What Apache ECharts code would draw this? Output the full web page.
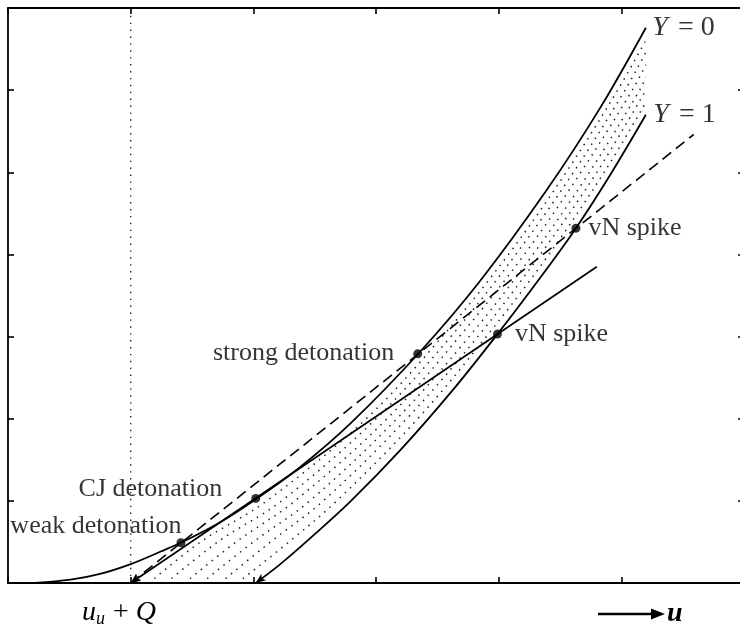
<!DOCTYPE html>
<html>
<head>
<meta charset="utf-8">
<script src="https://cdn.jsdelivr.net/npm/echarts@6/dist/echarts.min.js"></script>
<style>html,body{margin:0;padding:0;background:#fff}#c{width:740px;height:628px}</style>
</head>
<body>
<div id="c"></div>
<script>
// Hugoniot curves (u, p)
const yZeroCurve = [[0.22,0],[0.51,0.04],[0.75,0.11],[1.00,0.23],[1.24,0.38],[1.43,0.505],[1.73,0.74],[2.02,1.02],[2.38,1.41],[2.79,1.94],[3.35,2.80],[3.85,3.68],[4.39,4.78],[4.83,5.79],[5.20,6.76]];
const yOneCurve = [[2.02,0],[2.22,0.23],[2.46,0.54],[2.79,0.99],[3.20,1.62],[3.61,2.32],[3.99,3.03],[4.34,3.72],[4.63,4.32],[4.91,4.97],[5.20,5.70]];
// intermediate (dotted) Hugoniots
const midCurve1 = [[1.15,0],[1.57,0.5],[2.11,1],[2.92,2],[3.54,3],[4.08,4],[4.55,5],[4.97,6],[5.20,6.61]];
const midCurve2 = [[1.29,0],[1.71,0.5],[2.23,1],[3.00,2],[3.61,3],[4.14,4],[4.61,5],[5.03,6],[5.20,6.46]];
const midCurve3 = [[1.44,0],[1.86,0.5],[2.34,1],[3.09,2],[3.68,3],[4.21,4],[4.67,5],[5.09,6],[5.20,6.31]];
const midCurve4 = [[1.58,0],[2.00,0.5],[2.46,1],[3.17,2],[3.76,3],[4.28,4],[4.74,5],[5.15,6],[5.20,6.16]];
const midCurve5 = [[1.73,0],[2.14,0.5],[2.57,1],[3.25,2],[3.83,3],[4.34,4],[4.80,5],[5.20,6.00]];
const midCurve6 = [[1.87,0],[2.29,0.5],[2.68,1],[3.34,2],[3.90,3],[4.41,4],[4.86,5],[5.20,5.85]];
// Rayleigh lines
const rayleighDashed = [[1,0],[5.59,5.46]];
const rayleighCJ = [[1,0],[4.80,3.85]];
const verticalRef = [[1,0],[1,7]];
// marked points
const pointNames = ['weak detonation','CJ detonation','strong detonation','vN spike','vN spike'];
const pointValues = [[1.41,0.49],[2.02,1.03],[3.34,2.79],[4.63,4.32],[3.99,3.03]];
const xTicks = [0,1,2,3,4,5,6];
const yTicks = [0,1,2,3,4,5,6,7];

const serif = 'Liberation Serif';
const K = '#000';
const chart = echarts.init(document.getElementById('c'), null, {renderer:'canvas'});

function axisCommon(pos, isX, showLine){
  return {
    type:'value', position:pos, min: isX? xTicks[0] : yTicks[0], max: isX? xTicks[xTicks.length-1] : yTicks[yTicks.length-1], interval:1,
    axisLine:{show:showLine, onZero:false, lineStyle:{color:K, width:1.8}},
    axisTick:{show:true, inside:true, length:6, lineStyle:{color:K, width:1.6}},
    axisLabel:{show:false}, splitLine:{show:false}
  };
}

function withArrowStart(data, rot){
  return data.map((d,i)=> i===0 ? {value:d, symbol:'arrow', symbolSize:[6,10], symbolRotate:rot} : {value:d, symbol:'none'});
}

function dotted(data){
  return {type:'line', data:data, smooth:0.35, symbol:'none', silent:true,
    lineStyle:{color:'#222', width:1.5, type:[1.5,5.5]}, z:1};
}

const pointLabelCfg = [
  {position:'left', distance:-3, offset:[2,-17]},
  {position:'left', distance:29, offset:[0,-9]},
  {position:'left', distance:19, offset:[0,-1]},
  {position:'right', distance:8, offset:[0,0]},
  {position:'right', distance:13, offset:[0,0]}
];

const labelRich = {
  i:{fontFamily:serif, fontStyle:'italic', fontSize:28, color:K},
  e:{fontFamily:serif, fontSize:28, color:K, padding:[0,7,0,10]},
  n:{fontFamily:serif, fontSize:28, color:K}
};

const option = {
  animation:false,
  backgroundColor:'#fff',
  grid:{left:8, top:8, width:736, height:575, containLabel:false, outerBoundsMode:'none'},
  xAxis:[axisCommon('bottom',true,true), axisCommon('top',true,true)],
  yAxis:[axisCommon('left',false,true), axisCommon('right',false,false)],
  series:[
    {type:'line', data:verticalRef, symbol:'none', silent:true, lineStyle:{color:'#222', width:1.4, type:[1.4,5.5]}},
    dotted(midCurve1), dotted(midCurve2), dotted(midCurve3), dotted(midCurve4), dotted(midCurve5), dotted(midCurve6),
    {type:'line', data:yZeroCurve, smooth:0.35, symbol:'none', lineStyle:{color:K, width:1.8}, z:3},
    {type:'line', data:withArrowStart(yOneCurve,127), smooth:0.35, showSymbol:true, itemStyle:{color:K}, lineStyle:{color:K, width:1.8}, z:3},
    {type:'line', data:withArrowStart(rayleighDashed,128.5), showSymbol:true, itemStyle:{color:K}, lineStyle:{color:K, width:1.6, type:[11,6]}, z:3},
    {type:'line', data:withArrowStart(rayleighCJ,124), showSymbol:true, itemStyle:{color:K}, lineStyle:{color:K, width:1.7}, z:3},
    {type:'scatter', symbol:'circle', symbolSize:9, itemStyle:{color:K}, z:5,
      data: pointValues.map((v,i)=>({value:v, name:pointNames[i],
        label:Object.assign({show:true, formatter:pointNames[i], fontFamily:serif, fontSize:26, color:K}, pointLabelCfg[i])}))},
    {type:'scatter', symbol:'circle', symbolSize:1, itemStyle:{color:'rgba(0,0,0,0)'}, z:5,
      data:[
        {value:yZeroCurve[yZeroCurve.length-1], label:{show:true, position:'right', distance:6, formatter:'{i|Y}{e|=}{n|0}'}},
        {value:yOneCurve[yOneCurve.length-1], label:{show:true, position:'right', distance:7, formatter:'{i|Y}{e|=}{n|1}'}}
      ],
      label:{rich:labelRich}
    }
  ],
  graphic:[
    {type:'text', left:82, top:599, style:{
      text:'{i|u}{s|u}{n|+}{i|Q}',
      rich:{i:{fontFamily:serif, fontStyle:'italic', fontSize:28, fill:K},
            s:{fontFamily:serif, fontStyle:'italic', fontSize:18, fill:K, padding:[12,0,0,0]},
            n:{fontFamily:serif, fontSize:28, fill:K, padding:[0,7,0,8]}}
    }},
    {type:'line', shape:{x1:598, y1:614, x2:654, y2:614}, style:{stroke:K, lineWidth:2.4}},
    {type:'polygon', shape:{points:[[651,608.5],[665,614],[651,619.5]]}, style:{fill:K}},
    {type:'text', left:667, top:600, style:{text:'u', fontFamily:serif, fontStyle:'italic', fontWeight:'bold', fontSize:28, fill:K}}
  ]
};
chart.setOption(option);
</script>
</body>
</html>
